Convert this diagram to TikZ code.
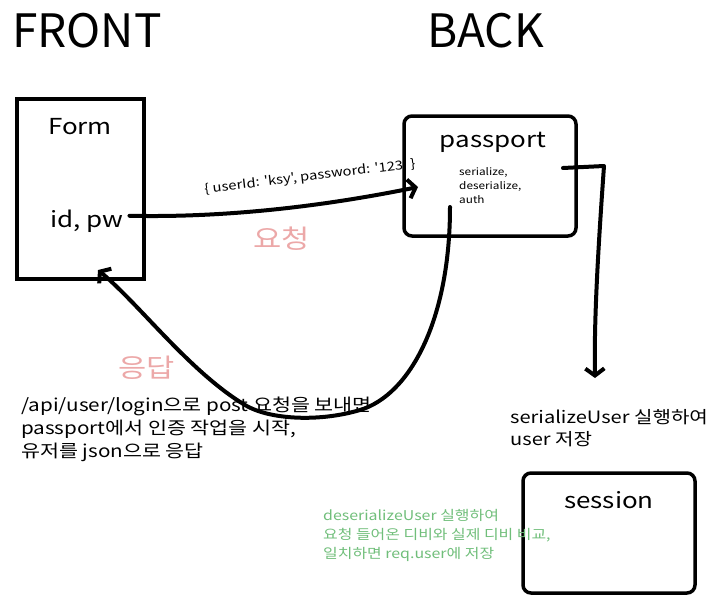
\documentclass[tikz,border=0pt]{standalone}
\usepackage{fontspec}
\setmainfont{Noto Sans CJK KR}
\newfontfamily\widefont{Noto Sans CJK KR}[FakeStretch=1.18]
\usepackage{tikz}
\usetikzlibrary{arrows.meta, positioning, calc}
\definecolor{reqpink}{RGB}{236,168,168}
\definecolor{notegreen}{RGB}{112,190,122}

\begin{document}
\begin{tikzpicture}[
        x=1pt, y=-1pt,
        >={Straight Barb[length=7pt, width=19pt]},
        side/.style={font=\fontsize{46}{50}\selectfont, anchor=base west, inner sep=0pt},
        pane/.style={draw, line width=4pt, minimum width=127pt, minimum height=180pt, inner sep=0pt},
        rbox/.style={draw, line width=3.5pt, rounded corners=8pt, minimum width=172pt, minimum height=120pt, inner sep=0pt},
        ttl/.style={font=\widefont\fontsize{22}{26}\selectfont, anchor=base, inner sep=0pt},
        small/.style={font=\widefont\fontsize{10}{14}\selectfont, align=left, anchor=base west, inner sep=0pt},
        note/.style={font=\widefont\fontsize{17.5}{23}\selectfont, align=left, anchor=base west, inner sep=0pt},
        gnote/.style={font=\widefont\fontsize{13.5}{19}\selectfont, align=left, anchor=base west, inner sep=0pt, text=notegreen},
        kr/.style={font=\widefont\fontsize{26}{30}\selectfont, text=reqpink, anchor=base west, inner sep=0pt},
        wire/.style={line width=4pt, line cap=round, line join=round}
    ]
        \useasboundingbox (0,0) rectangle (720,605);

        %=================== FRONT ===================
        \node[side] (front) at (12,47) {FRONT};
        \node[pane] (form) at (80.5,189) {};
        \node[ttl] (formlab) at (80,134) {Form};
        \node[ttl, anchor=base west] (idpw) at (50,227) {id, pw};

        %=================== BACK ===================
        \node[side] (back) at (427,47) {BACK};
        \node[rbox] (passport) at (490,176) {};
        \node[ttl] (passlab) at (493,147) {passport};
        % multi-line nodes: base = last line
        \node[small] (funcs) at (459,203) {serialize,\\deserialize,\\auth};

        \node[rbox] (session) at (609,533) {};
        \node[ttl] (seslab) at (609,508) {session};

        % free ends
        \coordinate (reqend) at (418,187);
        \coordinate (resstart) at (450,207);
        \coordinate (resend) at (98,270);
        \coordinate (serstart) at (563,168);
        \coordinate (serend) at (595,378);

        %=================== 요청 ===================
        \draw[wire, ->] (idpw.east) ++(6,-5) .. controls (230,218) and (330,205) .. (reqend);
        \node[font=\widefont\fontsize{12.5}{14}\selectfont, rotate=6.8, inner sep=0pt] (payload) at (310,177)
            {\{ userId: 'ksy', password: '123' \}};
        \node[kr] (req) at (253,248) {요청};

        %=================== 응답 ===================
        \draw[wire, ->] (resstart) .. controls (450,320) and (410,395) .. (360,410)
            .. controls (320,422) and (270,420) .. (245,405)
            .. controls (190,372) and (140,305) .. (resend);
        \node[kr] (res) at (118,377) {응답};
        \node[note] (flow) at (21,457)
            {/api/user/login으로 post 요청을 보내면\\passport에서 인증 작업을 시작,\\유저를 json으로 응답};

        %=================== serialize ===================
        \draw[wire, ->] (serstart) -- (604,166) .. controls (598,250) and (594,320) .. (serend);
        \node[note, font=\widefont\fontsize{17}{22}\selectfont] (ser) at (510,445) {serializeUser 실행하여\\user 저장};
        \node[gnote] (deser) at (323,558)
            {deserializeUser 실행하여\\요청 들어온 디비와 실제 디비 비교,\\일치하면 req.user에 저장};
    \end{tikzpicture}
\end{document}
